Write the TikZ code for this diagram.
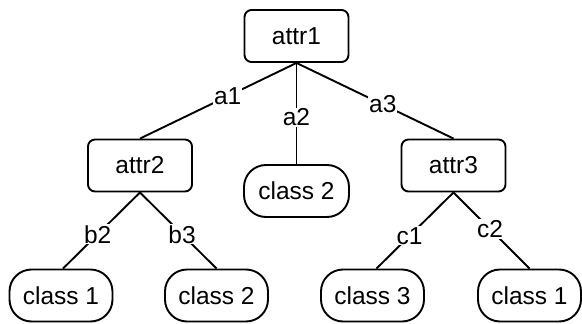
\documentclass[tikz,border=0pt]{standalone}
\usepackage{fontspec}
\setmainfont{Liberation Sans}
\begin{document}
\begin{tikzpicture}[x=1pt,y=-1pt,
  attrbox/.style={draw,line width=1.9pt,rounded corners=7pt,minimum width=104pt,minimum height=52pt,inner sep=0pt,font=\fontsize{24.5}{27}\selectfont},
  classbox/.style={draw,line width=1.9pt,rounded corners=22pt,minimum width=103pt,minimum height=52pt,inner sep=0pt,font=\fontsize{24.5}{27}\selectfont},
  edge/.style={line width=1.9pt},
  lbl/.style={fill=white,inner sep=1pt,font=\fontsize{24.5}{27}\selectfont}]
\useasboundingbox (0,0) rectangle (582,324);
\node[attrbox] (attr1) at (296.5,36) {attr1};
\node[attrbox] (attr2) at (140,165.5) {attr2};
\node[classbox,minimum width=105pt] (c2m) at (296.5,191) {class 2};
\node[attrbox] (attr3) at (453.5,165.5) {attr3};
\node[classbox] (c1l) at (61,295.5) {class 1};
\node[classbox] (c2l) at (216.5,295.5) {class 2};
\node[classbox] (c3) at (372.5,295.5) {class 3};
\node[classbox] (c1r) at (529.5,295.5) {class 1};
\draw[edge] (attr1.south) -- node[lbl,pos=0.44] {a1} (attr2.north);
\draw[edge] (attr1.south) -- node[lbl,pos=0.54] {a2} (c2m.north);
\draw[edge] (attr1.south) -- node[lbl,pos=0.55] {a3} (attr3.north);
\draw[edge] (attr2.south) -- node[lbl,pos=0.55] {b2} ([xshift=2pt]c1l.north);
\draw[edge] (attr2.south) -- node[lbl,pos=0.55] {b3} (c2l.north);
\draw[edge] (attr3.south) -- node[lbl,pos=0.57] {c1} ([xshift=4pt]c3.north);
\draw[edge] (attr3.south) -- node[lbl,pos=0.48] {c2} (c1r.north);
\end{tikzpicture}
\end{document}
